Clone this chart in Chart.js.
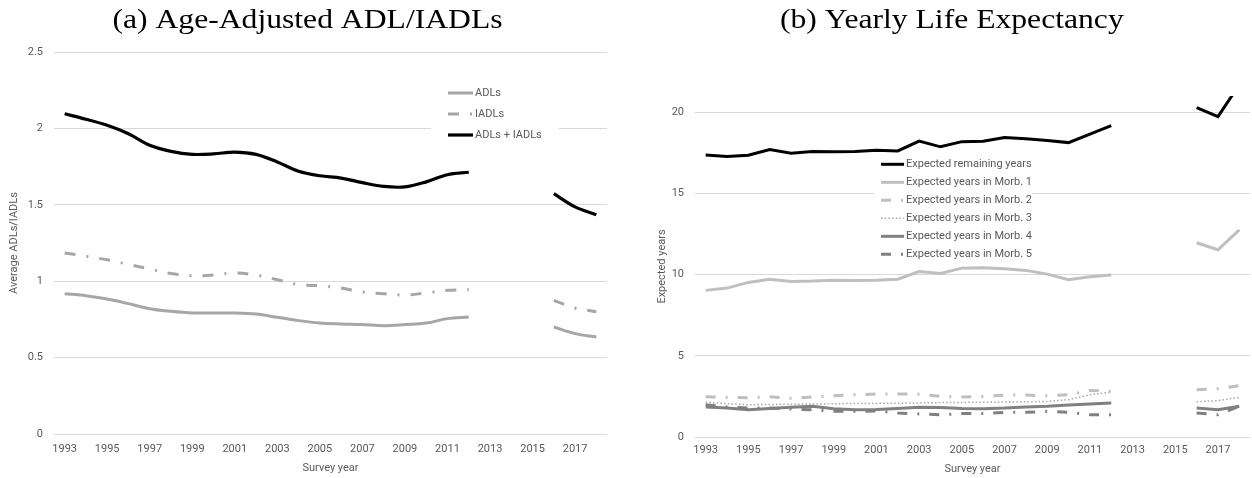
<!DOCTYPE html>
<html><head><meta charset="utf-8">
<script src="https://cdn.jsdelivr.net/npm/chart.js@4/dist/chart.umd.min.js"></script>
<style>
html,body{margin:0;padding:0;background:#fff;}
#wrap{position:relative;width:1252px;height:478px;overflow:hidden;background:#fff;}
canvas{position:absolute;top:0;}
</style></head><body>
<div id="wrap">
<canvas id="c1" width="626" height="478" style="left:0px"></canvas>
<canvas id="c2" width="626" height="478" style="left:626px"></canvas>
</div>
<script>
// ---------- data ----------
const years = ['1993','1994','1995','1996','1997','1998','1999','2000','2001','2002','2003','2004','2005','2006','2007','2008','2009','2010','2011','2012','2013','2014','2015','2016','2017','2018'];

// (a) Age-Adjusted ADL/IADLs
const adls  = [0.918,0.905,0.883,0.853,0.820,0.803,0.792,0.792,0.792,0.785,0.764,0.742,0.726,0.720,0.716,0.709,0.716,0.726,0.755,0.766,null,null,null,0.700,0.657,0.635];
const iadls = [1.185,1.163,1.140,1.110,1.080,1.050,1.036,1.040,1.054,1.040,1.010,0.977,0.970,0.955,0.930,0.918,0.910,0.923,0.940,0.945,null,null,null,0.875,0.825,0.800];
const adlsPlusIadls = [2.096,2.060,2.020,1.965,1.890,1.850,1.830,1.833,1.845,1.830,1.780,1.720,1.690,1.675,1.645,1.620,1.617,1.650,1.697,1.713,null,null,null,1.573,1.486,1.435];

// (b) Yearly Life Expectancy
const remainingYears = [17.37,17.27,17.35,17.70,17.48,17.58,17.56,17.58,17.66,17.62,18.22,17.87,18.19,18.22,18.44,18.36,18.26,18.13,18.65,19.18,null,null,null,20.29,19.73,21.70];
const morb1 = [9.03,9.17,9.52,9.72,9.58,9.60,9.66,9.64,9.66,9.72,10.19,10.07,10.40,10.42,10.36,10.26,10.03,9.68,9.87,9.97,null,null,null,11.96,11.53,12.76];
const morb2 = [2.48,2.44,2.42,2.48,2.38,2.46,2.54,2.60,2.65,2.65,2.63,2.50,2.46,2.50,2.58,2.58,2.54,2.60,2.87,2.81,null,null,null,2.91,2.97,3.16];
const morb3 = [2.15,2.05,1.99,2.00,2.02,2.03,2.05,2.06,2.07,2.08,2.10,2.12,2.13,2.14,2.15,2.17,2.19,2.30,2.60,2.77,null,null,null,2.17,2.24,2.44];
const morb4 = [1.85,1.78,1.68,1.75,1.83,1.89,1.74,1.68,1.70,1.76,1.83,1.81,1.76,1.74,1.78,1.85,1.89,1.97,2.03,2.09,null,null,null,1.78,1.68,1.89];
const morb5 = [1.99,1.85,1.78,1.78,1.72,1.68,1.58,1.58,1.60,1.48,1.42,1.37,1.44,1.44,1.52,1.52,1.58,1.52,1.37,1.37,null,null,null,1.48,1.37,1.89];

const leftTicks = [0, 0.5, 1, 1.5, 2, 2.5];
const rightTicks = [0, 5, 10, 15, 20];

// ---------- styling ----------
const SANS = "Roboto,'Liberation Sans',sans-serif";
const SERIF = "'Liberation Serif','DejaVu Serif',serif";
const TXT = '#595959';
const GRID = '#d9d9d9';

// panel title (drawn as canvas text, slightly widened to mimic the LaTeX face)
const panelTitle = {
  id: 'panelTitle',
  afterDraw(chart, args, o) {
    const ctx = chart.ctx;
    ctx.save();
    ctx.font = o.font;
    ctx.fillStyle = '#000';
    ctx.textAlign = 'center';
    ctx.textBaseline = 'alphabetic';
    ctx.translate(o.x, o.y);
    ctx.scale(o.stretch, 1);
    ctx.fillText(o.text, 0, 0);
    ctx.restore();
  }
};

const inlineLegend = {
  id: 'inlineLegend',
  afterDraw(chart, args, o) {
    const ctx = chart.ctx;
    ctx.save();
    ctx.fillStyle = '#ffffff';
    ctx.fillRect(o.box[0], o.box[1], o.box[2], o.box[3]);
    ctx.font = o.font;
    ctx.textBaseline = 'middle';
    ctx.textAlign = 'left';
    chart.data.datasets.forEach((ds, i) => {
      const y = o.y + i * o.gap;
      ctx.beginPath();
      ctx.strokeStyle = ds.borderColor;
      ctx.lineWidth = ds.borderWidth;
      ctx.lineCap = 'butt';
      ctx.setLineDash(ds.borderDash || []);
      ctx.moveTo(o.x, y);
      ctx.lineTo(o.x + o.len, y);
      ctx.stroke();
      ctx.setLineDash([]);
      ctx.fillStyle = TXT;
      ctx.fillText(ds.label, o.x + o.len + o.textGap, y);
    });
    ctx.restore();
  }
};

function xScale(padTick, padTitle, h) {
  return {
    type: 'category',
    offset: true,
    grid: { display: false, drawTicks: false },
    border: { display: false },
    ticks: {
      autoSkip: false, maxRotation: 0, minRotation: 0, padding: padTick,
      color: TXT, font: { family: SANS, size: 11 },
      callback: function (v, i) { return i % 2 === 0 ? this.getLabelForValue(v) : ''; }
    },
    title: { display: true, text: 'Survey year', color: TXT, font: { family: SANS, size: 11 }, padding: { top: 0, bottom: padTitle } },
    afterFit: s => { s.height = h; }
  };
}

function yScale(max, ticks, titleText, titlePad, w) {
  return {
    min: 0, max: max,
    grid: { color: GRID, lineWidth: 1, drawTicks: false },
    border: { display: false },
    ticks: {
      padding: 11, color: TXT, font: { family: SANS, size: 11 }, stepSize: ticks[1] - ticks[0],
      callback: v => String(v)
    },
    afterBuildTicks: s => { s.ticks = ticks.map(v => ({ value: v })); },
    title: { display: true, text: titleText, color: TXT, font: { family: SANS, size: 11 }, padding: { top: titlePad, bottom: 0 } },
    afterFit: s => { s.width = w; }
  };
}

Chart.defaults.font.family = SANS;

// ---------- chart (a) ----------
new Chart(document.getElementById('c1'), {
  type: 'line',
  data: {
    labels: years,
    datasets: [
      { label: 'ADLs', data: adls, borderColor: '#a6a6a6', borderWidth: 3 },
      { label: 'IADLs', data: iadls, borderColor: '#a6a6a6', borderWidth: 3, borderDash: [11, 11, 2, 11] },
      { label: 'ADLs + IADLs', data: adlsPlusIadls, borderColor: '#000000', borderWidth: 3.2 }
    ].map(d => Object.assign({ pointRadius: 0, tension: 0.35, spanGaps: false, fill: false, borderCapStyle: 'butt' }, d))
  },
  options: {
    responsive: false, animation: false, devicePixelRatio: 1,
    layout: { padding: { left: 0, right: 19, top: 52, bottom: 0 } },
    plugins: {
      legend: { display: false }, tooltip: { enabled: false }, title: { display: false },
      panelTitle: { text: '(a) Age-Adjusted ADL/IADLs', x: 307.5, y: 28, stretch: 1.13, font: '28px ' + SERIF },
      inlineLegend: { box: [431, 82, 128, 64], x: 448, y: 93, gap: 21, len: 25, textGap: 2, font: '11px ' + SANS }
    },
    scales: {
      x: xScale(9, 3, 44),
      y: yScale(2.5, leftTicks, 'Average ADLs/IADLs', 8, 54)
    }
  },
  plugins: [inlineLegend, panelTitle]
});

// ---------- chart (b) ----------
new Chart(document.getElementById('c2'), {
  type: 'line',
  data: {
    labels: years,
    datasets: [
      { label: 'Expected remaining years', data: remainingYears, borderColor: '#000000', borderWidth: 3 },
      { label: 'Expected years in Morb. 1', data: morb1, borderColor: '#bfbfbf', borderWidth: 3 },
      { label: 'Expected years in Morb. 2', data: morb2, borderColor: '#bfbfbf', borderWidth: 3, borderDash: [10, 10, 2, 10] },
      { label: 'Expected years in Morb. 3', data: morb3, borderColor: '#a6a6a6', borderWidth: 1.5, borderDash: [1.5, 2.2] },
      { label: 'Expected years in Morb. 4', data: morb4, borderColor: '#808080', borderWidth: 3 },
      { label: 'Expected years in Morb. 5', data: morb5, borderColor: '#808080', borderWidth: 3, borderDash: [10, 10, 2, 10] }
    ].map(d => Object.assign({ pointRadius: 0, tension: 0, spanGaps: false, fill: false, borderCapStyle: 'butt' }, d))
  },
  options: {
    responsive: false, animation: false, devicePixelRatio: 1,
    layout: { padding: { left: 0, right: 2, top: 96, bottom: 0 } },
    plugins: {
      legend: { display: false }, tooltip: { enabled: false }, title: { display: false },
      panelTitle: { text: '(b) Yearly Life Expectancy', x: 325.8, y: 28, stretch: 1.13, font: '28px ' + SERIF },
      inlineLegend: { box: [248, 155, 158, 108], x: 255, y: 164.3, gap: 18, len: 23, textGap: 2, font: '11px ' + SANS }
    },
    scales: {
      x: xScale(7, 2, 41),
      y: yScale(21, rightTicks, 'Expected years', 30, 69)
    }
  },
  plugins: [inlineLegend, panelTitle]
});
</script>
</body></html>
